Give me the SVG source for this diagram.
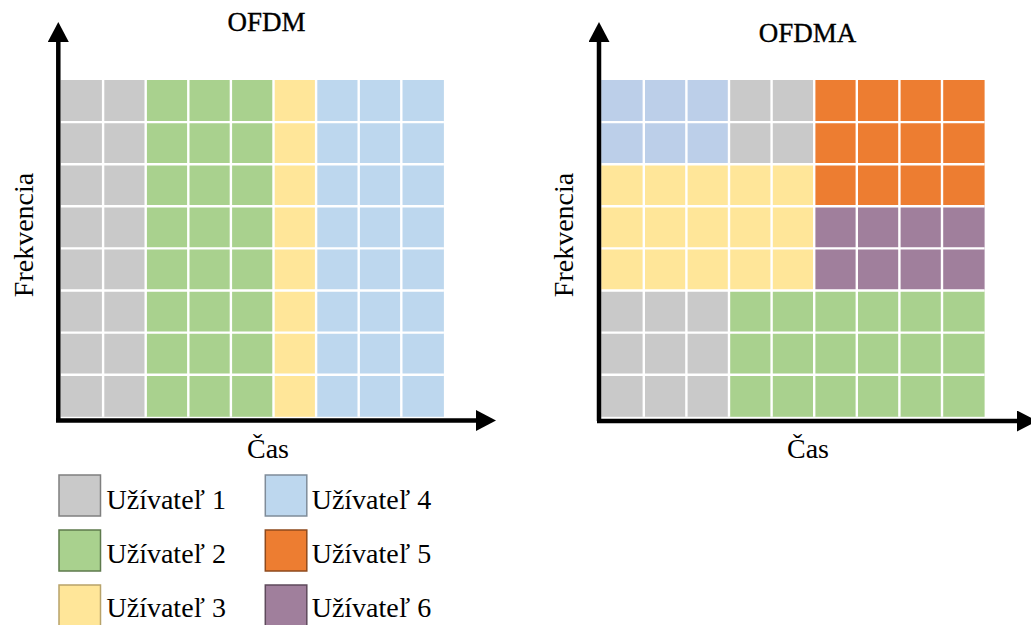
<svg xmlns="http://www.w3.org/2000/svg" width="1031" height="625" viewBox="0 0 1031 625">
  <style>
    .title { font-size: 27px; text-anchor: middle; stroke: #000; stroke-width: 0.35px; }
    .lbl { font-size: 28px; text-anchor: middle; }
    .leg { font-size: 28px; }
    .u1 { fill: #C9C9C9; }
    .u2 { fill: #A9D18E; }
    .u3 { fill: #FFE699; }
    .u4 { fill: #BDD7EE; }
    .u4b { fill: #BCCFE9; }
    .u5 { fill: #ED7D31; }
    .u6 { fill: #A07F9C; }
    .grid { stroke: #FFFFFF; stroke-width: 2.4; fill: none; }
    .axis { stroke: #000; stroke-width: 4.5; fill: none; }
    .sw { stroke-width: 1.5; }
  </style>
  <defs>
    <marker id="arrow" viewBox="0 0 20 21" refX="0" refY="10.5" markerWidth="20" markerHeight="21" markerUnits="userSpaceOnUse" orient="auto">
      <path d="M0,0 L20,10.5 L0,21 Z" fill="#000"/>
    </marker>
  </defs>

  <!-- OFDM: each user owns whole columns (pitch 42.6 x 42.1) -->
  <g id="ofdm-grid">
    <rect class="u1" x="60.5" y="80" width="85.2" height="336.8"/>
    <rect class="u2" x="145.7" y="80" width="127.8" height="336.8"/>
    <rect class="u3" x="273.5" y="80" width="42.6" height="336.8"/>
    <rect class="u4" x="316.1" y="80" width="127.8" height="336.8"/>
    <path class="grid" d="M103.1,80V416.8M145.7,80V416.8M188.3,80V416.8M230.9,80V416.8M273.5,80V416.8M316.1,80V416.8M358.7,80V416.8M401.3,80V416.8
      M60.5,122.1H443.9M60.5,164.2H443.9M60.5,206.3H443.9M60.5,248.4H443.9M60.5,290.5H443.9M60.5,332.6H443.9M60.5,374.7H443.9"/>
  </g>

  <!-- OFDMA: users share time and frequency blocks -->
  <g id="ofdma-grid">
    <rect class="u4b" x="601.2" y="80" width="127.8" height="84.2"/>
    <rect class="u1" x="729" y="80" width="85.2" height="84.2"/>
    <rect class="u5" x="814.2" y="80" width="170.4" height="126.3"/>
    <rect class="u3" x="601.2" y="164.2" width="213" height="126.3"/>
    <rect class="u6" x="814.2" y="206.3" width="170.4" height="84.2"/>
    <rect class="u1" x="601.2" y="290.5" width="127.8" height="126.3"/>
    <rect class="u2" x="729" y="290.5" width="255.6" height="126.3"/>
    <path class="grid" d="M643.8,80V416.8M686.4,80V416.8M729,80V416.8M771.6,80V416.8M814.2,80V416.8M856.8,80V416.8M899.4,80V416.8M942,80V416.8
      M601.2,122.1H984.6M601.2,164.2H984.6M601.2,206.3H984.6M601.2,248.4H984.6M601.2,290.5H984.6M601.2,332.6H984.6M601.2,374.7H984.6"/>
  </g>

  <!-- axes -->
  <g id="connectors">
    <path class="axis" d="M58.3,420.5V42" marker-end="url(#arrow)"/>
    <path class="axis" d="M56,420.5H476" marker-end="url(#arrow)"/>
    <path class="axis" d="M599,421V42" marker-end="url(#arrow)"/>
    <path class="axis" d="M597,421H1017" marker-end="url(#arrow)"/>
  </g>

  <g id="labels" font-family="Liberation Serif, DejaVu Serif, serif" fill="#000">
    <text class="title" x="266.5" y="31">OFDM</text>
    <text class="title" x="807.5" y="41.5">OFDMA</text>
    <text class="lbl" x="268" y="458.3">Čas</text>
    <text class="lbl" x="808" y="458.3">Čas</text>
    <text class="lbl" transform="translate(33,235) rotate(-90)">Frekvencia</text>
    <text class="lbl" transform="translate(573,235) rotate(-90)">Frekvencia</text>
  </g>

  <g id="legend" font-family="Liberation Serif, DejaVu Serif, serif" fill="#000">
    <g id="legend-u1">
      <rect class="u1 sw" x="59" y="475" width="41.5" height="41" stroke="#7F7F7F"/>
      <text class="leg" x="106.5" y="508.5">Užívateľ 1</text>
    </g>
    <g id="legend-u2">
      <rect class="u2 sw" x="59" y="530" width="41.5" height="41" stroke="#5E7A4C"/>
      <text class="leg" x="106.5" y="562.5">Užívateľ 2</text>
    </g>
    <g id="legend-u3">
      <rect class="u3 sw" x="59" y="585" width="41.5" height="41" stroke="#B8A36A"/>
      <text class="leg" x="106.5" y="616.5">Užívateľ 3</text>
    </g>
    <g id="legend-u4">
      <rect class="u4 sw" x="265.3" y="475" width="41.5" height="41" stroke="#7F8C99"/>
      <text class="leg" x="311.7" y="508.5">Užívateľ 4</text>
    </g>
    <g id="legend-u5">
      <rect class="u5 sw" x="265.3" y="530" width="41.5" height="41" stroke="#8E4A1D"/>
      <text class="leg" x="311.7" y="562.5">Užívateľ 5</text>
    </g>
    <g id="legend-u6">
      <rect class="u6 sw" x="265.3" y="585" width="41.5" height="41" stroke="#5E4A5B"/>
      <text class="leg" x="311.7" y="616.5">Užívateľ 6</text>
    </g>
  </g>
</svg>
